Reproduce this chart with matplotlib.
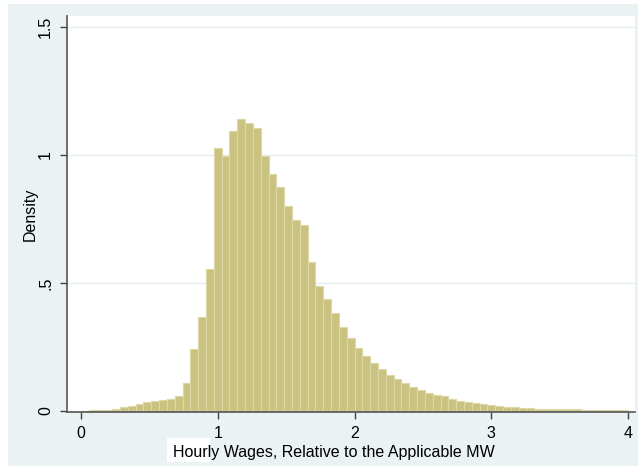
import numpy as np
import matplotlib
matplotlib.use("Agg")
import matplotlib.pyplot as plt
from matplotlib.patches import Rectangle

# histogram: 70 bins on [0, 4], density heights
bin_lo = 0.0
bin_hi = 4.0
density = [
    0.001, 0.002, 0.003, 0.004, 0.008, 0.016, 0.020, 0.028, 0.036, 0.039,
    0.042, 0.046, 0.059, 0.108, 0.242, 0.366, 0.555, 1.026, 0.996, 1.095,
    1.139, 1.126, 1.104, 0.996, 0.925, 0.874, 0.800, 0.747, 0.727, 0.581,
    0.488, 0.436, 0.382, 0.329, 0.284, 0.246, 0.215, 0.186, 0.164, 0.141,
    0.124, 0.108, 0.095, 0.082, 0.072, 0.064, 0.057, 0.046, 0.040, 0.036,
    0.030, 0.026, 0.023, 0.020, 0.017, 0.014, 0.013, 0.011, 0.009, 0.008,
    0.007, 0.007, 0.006, 0.006, 0.005, 0.005, 0.004, 0.004, 0.004, 0.003,
]
yticks = [0, 0.5, 1, 1.5]
yticklabels = ["0", ".5", "1", "1.5"]
xticks = [0, 1, 2, 3, 4]
xlabel = "Hourly Wages, Relative to the Applicable MW"
ylabel = "Density"

plt.rcParams['font.family'] = ['Liberation Sans', 'DejaVu Sans']

W, H = 638, 468
fig = plt.figure(figsize=(W / 100, H / 100), dpi=100)
fig.patch.set_facecolor("white")

# Stata-like outer background panel
fig.patches.append(Rectangle((8 / W, 1 - 466 / H), (W - 8) / W, 462 / H,
                             transform=fig.transFigure, facecolor="#EAF2F3",
                             edgecolor="none", zorder=0))
# white patch behind the start of the x title, as in the source image
fig.patches.append(Rectangle((167 / W, 1 - 462 / H), 43 / W, 24 / H,
                             transform=fig.transFigure, facecolor="white",
                             edgecolor="none", zorder=0.5))

ax = fig.add_axes([67 / W, 1 - 412 / H, (635 - 67) / W, (412 - 16) / H])
ax.set_zorder(1)
ax.set_facecolor("white")

edges = np.linspace(bin_lo, bin_hi, len(density) + 1)
ax.bar(edges[:-1], density, width=np.diff(edges), align="edge",
       color="#C9C280", edgecolor="#DDD8A6", linewidth=0.8, zorder=2)

ax.set_xlim(-0.102, 4.05)
ax.set_ylim(-0.004, 1.543)

for y in yticks[1:]:
    ax.axhline(y, color="#E4EDF0", lw=1.0, zorder=1)

ax.set_yticks(yticks)
ax.set_yticklabels(yticklabels, rotation=90, va="center")
ax.set_xticks(xticks)
ax.tick_params(axis="both", direction="out", length=5, width=1,
               color="#444444", labelsize=11.5, pad=5)

for side in ["top", "right"]:
    ax.spines[side].set_visible(False)
for side in ["left", "bottom"]:
    ax.spines[side].set_color("#555555")
    ax.spines[side].set_linewidth(1.2)

ax.set_ylabel(ylabel, fontsize=11.5, labelpad=0)

fig.text(334 / W, 1 - 452 / H, xlabel, ha="center", va="center",
         fontsize=11.5, zorder=3)

fig.savefig("out.png", dpi=100, facecolor=fig.get_facecolor())
